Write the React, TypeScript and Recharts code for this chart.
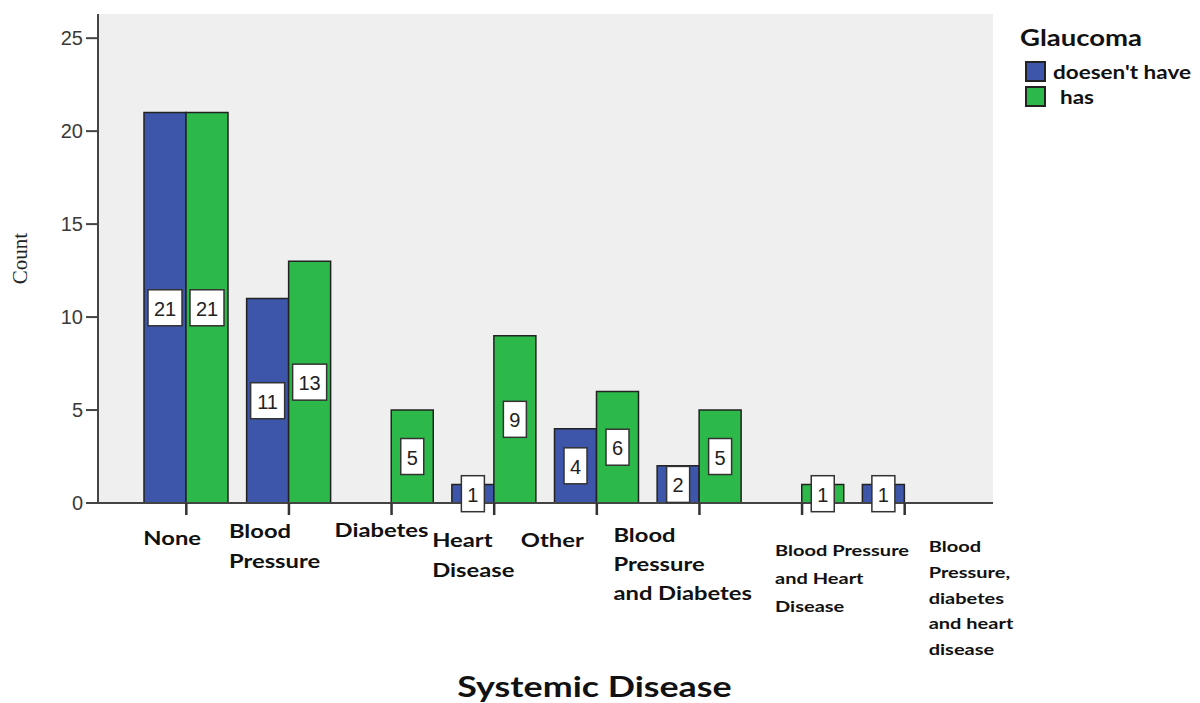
import { BarChart, Bar, XAxis, YAxis, CartesianGrid, Legend, LabelList, Label } from 'recharts'

// Systemic disease categories (line breaks mark where the axis label wraps)
const categories = [
  'None',
  'Blood\nPressure',
  'Diabetes',
  'Heart\nDisease',
  'Other',
  'Blood\nPressure\nand Diabetes',
  'Blood Pressure\nand Heart\nDisease',
  'Blood\nPressure,\ndiabetes\nand heart\ndisease',
]
const doesntHave = [21, 11, 0, 1, 4, 2, 0, 1]
const has = [21, 13, 5, 9, 6, 5, 1, 0]
const yTicks = [0, 5, 10, 15, 20, 25]

const data = categories.map((name, i) => ({
  name,
  doesntHave: doesntHave[i],
  has: has[i],
}))

const BLUE = '#3d56a9'
const GREEN = '#2db84a'
const DARK = '#222'
const LABEL_FONT = 'Lato, "Open Sans", sans-serif'
const STRETCH = 1.25

// per-category label placement under the axis
const tickLayout = [
  { dx: -43, dy: 35, lh: 30, size: 19 },
  { dx: -60, dy: 28, lh: 30, size: 19 },
  { dx: -57, dy: 27, lh: 30, size: 19 },
  { dx: -62, dy: 37, lh: 30, size: 19 },
  { dx: -76, dy: 37, lh: 30, size: 19 },
  { dx: -86, dy: 32, lh: 29, size: 19 },
  { dx: -27, dy: 47, lh: 28, size: 16 },
  { dx: 24, dy: 43, lh: 25.75, size: 16 },
]

const CategoryTick = (props: any) => {
  const { x, y, payload, index } = props
  const layout = tickLayout[index] ?? tickLayout[0]
  const base = y - 12
  const lines = String(payload.value).split('\n')
  return (
    <g transform={`translate(${x + layout.dx}, ${base + layout.dy}) scale(${STRETCH}, 1)`}>
      {lines.map((line, i) => (
        <text
          key={i}
          x={0}
          y={i * layout.lh}
          dominantBaseline="central"
          fontFamily={LABEL_FONT}
          fontWeight={700}
          fontSize={layout.size}
          fill="#111"
        >
          {line}
        </text>
      ))}
    </g>
  )
}

const AxisTitle = (props: any) => {
  const { viewBox } = props
  const cx = viewBox.x + viewBox.width / 2 + 49
  return (
    <g transform={`translate(${cx}, 686) scale(1.28, 1)`}>
      <text
        textAnchor="middle"
        dominantBaseline="central"
        fontFamily={LABEL_FONT}
        fontWeight={700}
        fontSize={28}
        fill="#111"
      >
        Systemic Disease
      </text>
    </g>
  )
}

const ValueBox = (props: any) => {
  const { x, y, width, height, value } = props
  if (!value) return null
  const w = String(value).length > 1 ? 34 : 23
  const h = 36
  const cx = x + width / 2
  const cy = y + height / 2
  return (
    <g>
      <rect x={cx - w / 2} y={cy - h / 2} width={w} height={h} fill="#fff" stroke="#333" strokeWidth={1.5} />
      <text
        x={cx}
        y={cy + 1}
        textAnchor="middle"
        dominantBaseline="central"
        fontFamily='"Liberation Sans", Arial, sans-serif'
        fontSize={20}
        fill="#222"
      >
        {value}
      </text>
    </g>
  )
}

const GlaucomaLegend = (props: any) => {
  const { payload } = props
  return (
    <div style={{ fontFamily: LABEL_FONT, color: '#111' }}>
      <div
        style={{
          fontWeight: 700,
          fontSize: 22,
          marginBottom: 8,
          transform: `scaleX(${STRETCH})`,
          transformOrigin: 'left center',
        }}
      >
        Glaucoma
      </div>
      {payload.map((entry: any, i: number) => (
        <div key={i} style={{ display: 'flex', alignItems: 'center', height: 25 }}>
          <span
            style={{
              display: 'inline-block',
              flex: 'none',
              width: 17,
              height: 17,
              background: entry.color,
              border: `2px solid ${DARK}`,
              marginLeft: 5,
              marginRight: i === 0 ? 7 : 14,
            }}
          />
          <span
            style={{
              fontWeight: 700,
              fontSize: 18,
              whiteSpace: 'nowrap',
              transform: `scaleX(${STRETCH})`,
              transformOrigin: 'left center',
            }}
          >
            {entry.value}
          </span>
        </div>
      ))}
    </div>
  )
}

export default function App() {
  return (
    <div style={{ position: 'absolute', left: 0, top: 0, background: '#fff' }}>
      <BarChart
        width={1200}
        height={703}
        data={data}
        margin={{ top: 14, right: 27, left: 0, bottom: 0 }}
        barGap={0}
        barSize={42}
      >
        <CartesianGrid horizontal={false} vertical={false} fill="#efefef" />
        <XAxis
          dataKey="name"
          padding={{ left: 37, right: 37 }}
          height={200}
          axisLine={{ stroke: '#444', strokeWidth: 2 }}
          tickLine={{ stroke: '#333', strokeWidth: 2.5 }}
          tickSize={12}
          tickMargin={0}
          interval={0}
          tick={<CategoryTick />}
        >
          <Label content={<AxisTitle />} />
        </XAxis>
        <XAxis
          xAxisId="top"
          dataKey="name"
          orientation="top"
          height={0}
          tick={false}
          tickLine={false}
          axisLine={{ stroke: '#555', strokeWidth: 2 }}
        />
        <YAxis
          width={98}
          domain={[0, 26.3]}
          ticks={yTicks}
          allowDataOverflow
          axisLine={{ stroke: '#444', strokeWidth: 2 }}
          tickLine={{ stroke: '#444', strokeWidth: 2 }}
          tickSize={12}
          tickMargin={3}
          tick={{ fill: '#3a3a3a', fontSize: 20, fontFamily: '"Liberation Sans", Arial, sans-serif' }}
        >
          <Label
            value="Count"
            angle={-90}
            position="insideLeft"
            offset={20}
            style={{ fontFamily: '"Liberation Serif", "Times New Roman", serif', fontSize: 21, fill: '#222', textAnchor: 'middle' }}
          />
        </YAxis>
        <YAxis
          yAxisId="right"
          orientation="right"
          width={0}
          domain={[0, 26.3]}
          ticks={yTicks}
          tick={false}
          tickLine={false}
          axisLine={{ stroke: '#444', strokeWidth: 2 }}
        />
        <Legend
          verticalAlign="top"
          align="right"
          layout="vertical"
          wrapperStyle={{ position: 'absolute', left: 1020, top: 24, width: 180 }}
          content={<GlaucomaLegend />}
        />
        <Bar dataKey="doesntHave" name="doesen't have" fill={BLUE} stroke={DARK} strokeWidth={1.5} isAnimationActive={false}>
          <LabelList dataKey="doesntHave" content={<ValueBox />} />
        </Bar>
        <Bar dataKey="has" name="has" fill={GREEN} stroke={DARK} strokeWidth={1.5} isAnimationActive={false}>
          <LabelList dataKey="has" content={<ValueBox />} />
        </Bar>
      </BarChart>
    </div>
  )
}
